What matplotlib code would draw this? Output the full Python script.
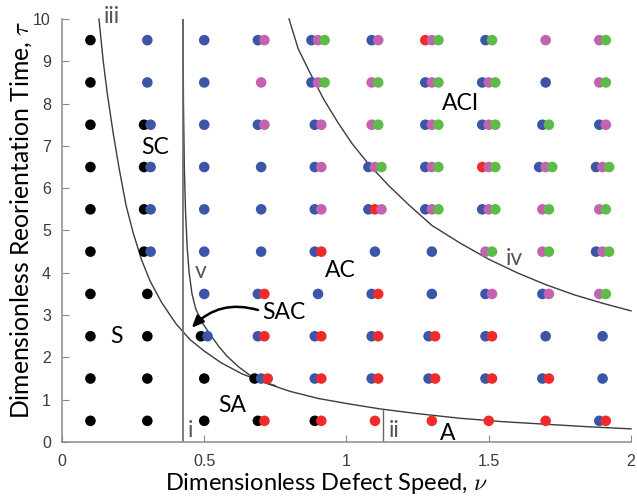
import numpy as np
import matplotlib
matplotlib.use('Agg')
import matplotlib.pyplot as plt

# grid of simulated (speed, reorientation time) points
nu_cols = [0.1, 0.3, 0.5, 0.7, 0.9, 1.1, 1.3, 1.5, 1.7, 1.9]
tau_rows = [9.5, 8.5, 7.5, 6.5, 5.5, 4.5, 3.5, 2.5, 1.5, 0.5]
# states seen at each point, one letter per coloured dot
states = [
    ['k', 'b', 'b', 'bm', 'bmg', 'bm', 'rmg', 'bg', 'm', 'mg'],
    ['k', 'b', 'b', 'm', 'bmg', 'mg', 'bmg', 'bmg', 'b', 'mg'],
    ['k', 'kb', 'b', 'bm', 'bm', 'mg', 'bmg', 'bmg', 'bg', 'bm'],
    ['k', 'kb', 'b', 'b', 'bm', 'bmg', 'bmg', 'rmg', 'bmg', 'bmg'],
    ['k', 'kb', 'b', 'b', 'bm', 'brm', 'bmg', 'bmg', 'mg', 'mg'],
    ['k', 'kb', 'b', 'b', 'br', 'b', 'b', 'mg', 'mg', 'bmg'],
    ['k', 'k', 'b', 'br', 'b', 'br', 'b', 'bm', 'bm', 'mg'],
    ['k', 'k', 'kb', 'br', 'br', 'br', 'br', 'br', 'b', 'b'],
    ['k', 'k', 'k', 'kbr', 'br', 'br', 'br', 'br', 'br', 'b'],
    ['k', 'k', 'k', 'kr', 'kr', 'r', 'r', 'r', 'r', 'br'],
]
colors = {'k': '#000000', 'b': '#3d55a6', 'r': '#ef2b2b', 'm': '#c262b1', 'g': '#5cbc47'}

# boundary curves
iii_nu = [0.13, 0.145, 0.16, 0.18, 0.20, 0.225, 0.25, 0.28, 0.31, 0.35, 0.40, 0.45,
          0.50, 0.56, 0.63, 0.70, 0.80, 0.90, 1.00, 1.12, 1.25, 1.40, 1.55, 1.70, 1.85, 2.00]
iii_tau = [10.0, 9.0, 8.2, 7.3, 6.5, 5.6, 4.95, 4.3, 3.8, 3.3, 2.8, 2.42,
           2.15, 1.87, 1.62, 1.43, 1.2, 1.03, 0.91, 0.78, 0.67, 0.56, 0.48, 0.42, 0.36, 0.31]
v_nu = [0.425, 0.427, 0.43, 0.434, 0.44, 0.447, 0.457, 0.47, 0.49, 0.52, 0.55, 0.58,
        0.62, 0.66, 0.70, 0.75]
v_tau = [10.0, 8.0, 6.5, 5.5, 4.6, 4.0, 3.5, 3.15, 2.85, 2.55, 2.27, 2.03,
         1.78, 1.58, 1.44, 1.33]
iv_nu = [0.798, 0.83, 0.87, 0.92, 0.97, 1.02, 1.08, 1.15, 1.22, 1.30, 1.40, 1.50,
         1.60, 1.70, 1.80, 1.90, 2.00]
iv_tau = [10.0, 9.3, 8.75, 8.1, 7.55, 7.05, 6.55, 6.05, 5.6, 5.12, 4.7, 4.32,
          4.0, 3.72, 3.48, 3.28, 3.1]
i_nu = 0.427
ii_nu = 1.129
ii_top = 0.78

labels = ['iii', 'SC', 'S', 'v', 'SAC', 'SA', 'i', 'ii', 'A', 'AC', 'ACI', 'iv']
label_nu = [0.176, 0.327, 0.19, 0.487, 0.78, 0.60, 0.452, 1.167, 1.357, 0.98, 1.40, 1.59]
label_tau = [10.05, 6.97, 2.5, 4.03, 3.05, 0.87, 0.28, 0.26, 0.21, 4.05, 8.01, 4.33]

plt.rcParams['font.family'] = ['Lato', 'DejaVu Sans']
plt.rcParams['mathtext.fontset'] = 'cm'

fig = plt.figure(figsize=(6.37, 4.96), dpi=100)
ax = fig.add_axes([0.0973, 0.1089, 0.8933, 0.8528])

step = 0.023
for i, tau in enumerate(tau_rows):
    for j, nu in enumerate(nu_cols):
        s = states[i][j]
        n = len(s)
        for k, c in enumerate(s):
            ax.scatter(nu + (k - (n - 1) / 2) * step, tau, s=58, color=colors[c],
                       edgecolors='none', zorder=3)

lc = '#3c3c3c'
ax.plot(iii_nu, iii_tau, color=lc, lw=1.0, zorder=2, clip_on=False)
ax.plot(v_nu, v_tau, color=lc, lw=1.0, zorder=2)
ax.plot(iv_nu, iv_tau, color=lc, lw=1.0, zorder=2, clip_on=False)
ax.plot([i_nu, i_nu], [0, 10], color='#666666', lw=1.2, zorder=2)
ax.plot([ii_nu, ii_nu], [0, ii_top], color='#666666', lw=1.0, zorder=2)

for t, x, y in zip(labels, label_nu, label_tau):
    col = '#555555' if t in ('i', 'ii', 'iii', 'iv', 'v') else 'black'
    ax.text(x, y, t, fontsize=16.5, color=col, ha='center', va='center', zorder=4)

ax.annotate('', xy=(0.456, 2.70), xytext=(0.689, 3.12),
            arrowprops=dict(arrowstyle='-|>,head_length=0.7,head_width=0.3',
                            connectionstyle='arc3,rad=0.3', color='black', lw=1.8,
                            shrinkA=0, shrinkB=0))

ax.set_xlim(0, 2)
ax.set_ylim(0, 10)
ax.set_xticks([0, 0.5, 1, 1.5, 2])
ax.set_xticklabels(['0', '0.5', '1', '1.5', '2'])
ax.set_yticks(range(0, 11))
for sp in ['top', 'right']:
    ax.spines[sp].set_visible(False)
for sp in ['left', 'bottom']:
    ax.spines[sp].set_color('#8a8a8a')
    ax.spines[sp].set_linewidth(1.1)
ax.tick_params(direction='in', length=5, color='#8a8a8a', labelcolor='#3a3a3a',
               labelsize=11.5)
ax.tick_params(axis='x', pad=9)
ax.tick_params(axis='y', pad=8)
for lab in ax.get_xticklabels() + ax.get_yticklabels():
    lab.set_family('Liberation Sans')

ax.set_xlabel(r'Dimensionless Defect Speed, $\nu$', fontsize=17)
ax.set_ylabel(r'Dimensionless Reorientation Time, $\tau$', fontsize=17.8)
ax.xaxis.set_label_coords(0.465, -0.068)
ax.yaxis.set_label_coords(-0.05, 0.525)

fig.savefig('out.png', dpi=100)
